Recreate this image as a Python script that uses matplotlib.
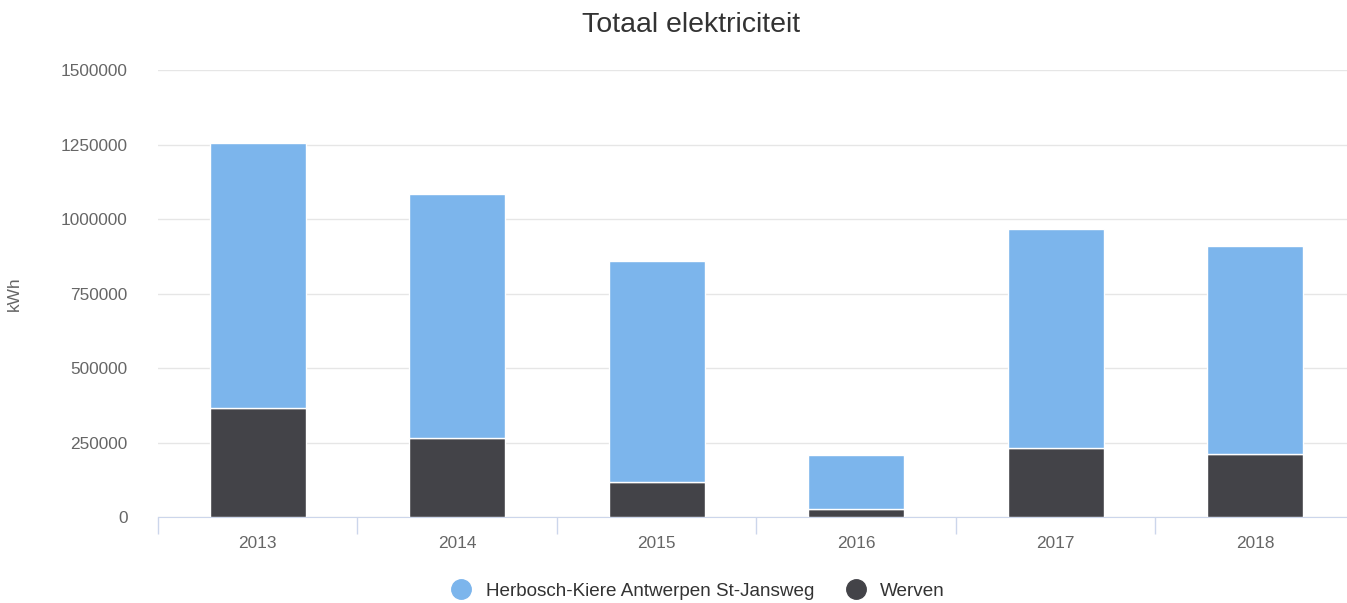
import matplotlib.pyplot as plt
import numpy as np
from matplotlib.lines import Line2D

years = ['2013', '2014', '2015', '2016', '2017', '2018']
werven = [366000, 265000, 117000, 27000, 231000, 211000]
herbosch = [889000, 819000, 742000, 181000, 735000, 698000]
yticks = [0, 250000, 500000, 750000, 1000000, 1250000, 1500000]

blue = '#7cb5ec'
dark = '#434348'

plt.rcParams['font.family'] = ['Liberation Sans', 'DejaVu Sans']

fig = plt.figure(figsize=(13.47, 6.03), dpi=100)
ax = fig.add_axes([0.1173, 0.1426, 0.8886, 0.7413])

x = np.arange(len(years))
ax.bar(x, werven, width=0.48, color=dark, edgecolor='white', linewidth=1, zorder=3)
ax.bar(x, herbosch, width=0.48, bottom=werven, color=blue, edgecolor='white', linewidth=1, zorder=3)

ax.set_xlim(-0.5, len(years) - 0.5)
ax.set_ylim(0, 1500000)
ax.set_yticks(yticks)
ax.set_yticklabels([str(v) for v in yticks])
ax.set_xticks(x)
ax.set_xticklabels(years)
ax.set_xticks(np.arange(-0.5, len(years)), minor=True)

ax.grid(axis='y', color='#e6e6e6', linewidth=1, zorder=0)
for s in ['top', 'right', 'left']:
    ax.spines[s].set_visible(False)
ax.spines['bottom'].set_color('#ccd6eb')
ax.tick_params(axis='y', length=0, pad=22, labelsize=12.4, labelcolor='#666666')
ax.tick_params(axis='x', which='major', length=0, pad=14, labelsize=12.4, labelcolor='#666666')
ax.tick_params(axis='x', which='minor', length=12, color='#ccd6eb', width=1)

ax.set_ylabel('kWh', fontsize=12.4, color='#666666', labelpad=28)
fig.text(0.513, 0.958, 'Totaal elektriciteit', ha='center', va='center', fontsize=20.5, color='#333333')

handles = [
    Line2D([], [], marker='o', linestyle='none', markersize=14, color=blue, label='Herbosch-Kiere Antwerpen St-Jansweg'),
    Line2D([], [], marker='o', linestyle='none', markersize=14, color=dark, label='Werven'),
]
fig.legend(handles=handles, loc='center', bbox_to_anchor=(0.515, 0.02), ncol=2, frameon=False,
           fontsize=13.6, labelcolor='#333333', handletextpad=0.3, columnspacing=1.2,
           borderpad=0.1)

fig.savefig('out.png', dpi=100)
